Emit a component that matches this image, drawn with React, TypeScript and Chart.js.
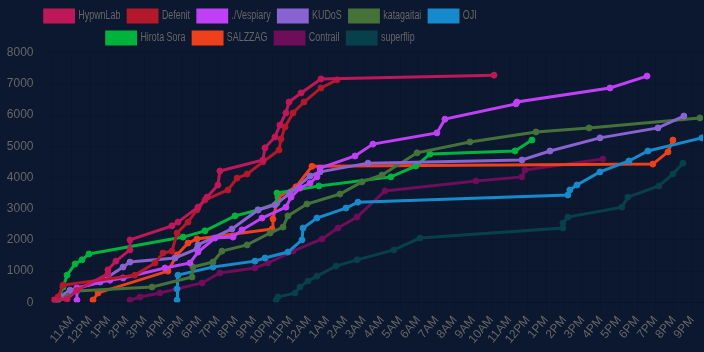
import React, { useEffect, useRef } from "react";
import { Chart, registerables } from "chart.js";
Chart.register(...registerables);

const teamNames = ["HypwnLab", "Defenit", "./Vespiary", "KUDoS", "katagaitai", "OJI", "Hirota Sora", "SALZZAG", "Contrail", "superflip"];
const teamColors = ["#bf1858", "#b3182b", "#bf40f5", "#8a63d2", "#447238", "#168acb", "#00b33c", "#ee401a", "#6e0d5a", "#07404a"];

// time in hours since midnight of day 1
const hypwnlabHours = [10.07, 10.73, 11.27, 12.97, 12.97, 13.41, 14.18, 14.18, 16.48, 16.81, 17.91, 18.4, 19.0, 19.11, 21.47, 21.58, 22.13, 22.4, 22.73, 22.9, 23.56, 24.65, 34.14];
const hypwnlabScores = [70, 100, 390, 910, 1040, 1320, 1680, 2000, 2450, 2570, 3050, 3370, 3760, 4210, 4560, 4950, 5300, 5680, 6070, 6420, 6710, 7160, 7280];

const defenitHours = [9.95, 10.23, 10.51, 14.45, 15.55, 15.99, 16.48, 16.76, 17.36, 17.85, 18.29, 19.55, 20.05, 20.6, 21.47, 22.35, 22.46, 22.68, 23.12, 23.72, 24.65, 25.53];
const defenitScores = [70, 170, 550, 870, 1260, 1580, 1640, 2220, 2570, 2960, 3280, 3600, 3980, 4110, 4500, 4880, 5230, 5620, 6070, 6420, 6870, 7130];

const vespiaryHours = [11.27, 11.27, 13.08, 13.8, 16.1, 17.47, 17.91, 18.84, 19.83, 20.32, 21.42, 22.73, 23.01, 23.5, 24.05, 24.43, 24.6, 26.52, 27.5, 31.01, 31.45, 35.34, 35.4, 40.5, 42.53];
const vespiaryScores = [70, 460, 710, 780, 1100, 1260, 1610, 2060, 2090, 2320, 2700, 3050, 3370, 3660, 3820, 4020, 4300, 4690, 5070, 5430, 5870, 6360, 6420, 6870, 7250];

const kudosHours = [10.07, 10.89, 12.54, 13.8, 14.18, 16.65, 17.85, 17.91, 19.77, 21.2, 22.13, 22.95, 24.05, 24.6, 27.23, 35.67, 37.21, 39.95, 43.13, 44.55];
const kudosScores = [70, 390, 650, 1130, 1290, 1420, 1710, 1840, 2350, 2960, 3120, 3500, 4050, 4180, 4460, 4560, 4850, 5270, 5590, 5970];

const katagaitaiHours = [10.23, 11.27, 15.39, 17.58, 17.63, 18.73, 19.22, 20.6, 21.86, 22.57, 22.84, 23.88, 25.69, 26.9, 28.0, 29.92, 32.82, 36.44, 39.35, 45.43];
const katagaitaiScores = [70, 360, 490, 810, 1130, 1290, 1640, 1840, 2220, 2410, 2770, 3150, 3470, 3860, 4080, 4790, 5140, 5460, 5590, 5910];

const ojiHours = [16.76, 16.76, 16.81, 18.73, 21.03, 21.58, 22.84, 23.61, 23.67, 24.43, 26.02, 26.68, 38.19, 38.3, 38.69, 39.95, 41.54, 42.58, 45.54];
const ojiScores = [70, 430, 870, 1130, 1320, 1420, 1610, 2000, 2380, 2700, 3020, 3210, 3440, 3600, 3760, 4180, 4530, 4850, 5270];

const hirotaHours = [10.23, 10.51, 10.73, 11.17, 11.55, 11.93, 17.09, 18.29, 19.94, 21.2, 22.24, 22.24, 24.54, 28.49, 29.86, 30.63, 35.29, 36.22];
const hirotaScores = [70, 490, 870, 1230, 1360, 1550, 2090, 2290, 2770, 2960, 3180, 3500, 3730, 4020, 4370, 4750, 4850, 5200];

const salzzagHours = [12.15, 12.43, 16.26, 16.76, 17.36, 17.85, 21.97, 22.02, 22.29, 23.28, 24.16, 42.85, 43.68, 43.95];
const salzzagScores = [70, 300, 1000, 1520, 1900, 2030, 2350, 2670, 3370, 3700, 4360, 4430, 4820, 5200];

const contrailHours = [14.18, 14.73, 15.82, 18.13, 19.11, 21.03, 21.75, 23.12, 24.71, 25.58, 26.63, 28.16, 33.15, 35.67, 35.84, 40.11];
const contrailScores = [70, 170, 300, 620, 940, 1100, 1260, 1640, 2030, 2380, 2730, 3570, 3890, 4020, 4240, 4590];

const superflipHours = [22.19, 22.29, 23.23, 23.5, 23.94, 24.43, 25.47, 26.63, 28.65, 30.08, 37.92, 37.92, 38.19, 41.15, 41.48, 43.18, 43.95, 44.5];
const superflipScores = [70, 170, 300, 490, 680, 840, 1160, 1360, 1680, 2060, 2380, 2540, 2730, 3050, 3370, 3730, 4110, 4460];

const teamHours = [hypwnlabHours, defenitHours, vespiaryHours, kudosHours, katagaitaiHours, ojiHours, hirotaHours, salzzagHours, contrailHours, superflipHours];
const teamScores = [hypwnlabScores, defenitScores, vespiaryScores, kudosScores, katagaitaiScores, ojiScores, hirotaScores, salzzagScores, contrailScores, superflipScores];

const xMin = 9.876;
const xMax = 45.6;
const firstTickHour = 11;
const yMax = 8000;
const yStep = 1000;

const legendScaleX = 0.741;
const legendTrim = 1.3;
const yAxisWidth = 51.5;
const xAxisHeight = 49.7;
const FONT = "'Liberation Sans', Arial, Helvetica, sans-serif";

function hourLabel(v: number): string {
  const h = ((Math.round(v) % 24) + 24) % 24;
  if (h === 0) return "12AM";
  if (h === 12) return "12PM";
  return h < 12 ? `${h}AM` : `${h - 12}PM`;
}

const legendSqueeze = {
  id: "legendSqueeze",
  beforeLayout(chart: any) {
    const lg: any = chart.legend;
    if (lg && !lg.__fitPatched) {
      const origFit = lg.fit.bind(lg);
      lg.fit = () => {
        origFit();
        lg.height = Math.max(0, lg.height - legendTrim);
      };
      lg.__fitPatched = true;
    }
  },
  beforeDraw(chart: any) {
    const lg: any = chart.legend;
    if (lg && !lg.__squeezed) {
      const orig = lg.draw.bind(lg);
      lg.draw = (area: any) => {
        const ctx = chart.ctx;
        ctx.save();
        ctx.scale(legendScaleX, 1);
        orig(area);
        ctx.restore();
      };
      lg.__squeezed = true;
    }
  },
};

export default function App() {
  const ref = useRef<HTMLCanvasElement | null>(null);
  useEffect(() => {
    if (!ref.current) return;
    const chart = new Chart(ref.current, {
      type: "line",
      data: {
        datasets: teamNames.map((name, i) => ({
          label: name,
          data: teamHours[i].map((h, j) => ({ x: h, y: teamScores[i][j] })),
          borderColor: teamColors[i],
          backgroundColor: teamColors[i],
          pointBackgroundColor: teamColors[i],
          pointBorderColor: teamColors[i],
          borderWidth: 3,
          pointRadius: 3,
          pointBorderWidth: 1,
          tension: 0,
          fill: false,
        })),
      },
      options: {
        animation: false,
        responsive: true,
        maintainAspectRatio: false,
        layout: { padding: { left: 0, right: 1, top: 0, bottom: 0 }, autoPadding: false },
        plugins: {
          legend: {
            labels: {
              boxWidth: 40,
              color: "#666",
              font: { size: 12, family: FONT },
            },
          },
          tooltip: { enabled: false },
        },
        scales: {
          x: {
            type: "linear",
            min: xMin,
            max: xMax,
            afterBuildTicks: (axis: any) => {
              axis.ticks = axis.ticks.filter((t: any) => t.value >= firstTickHour && Number.isInteger(t.value));
            },
            afterFit: (axis: any) => {
              axis.paddingLeft = 0;
              axis.paddingRight = 0;
              axis.height = xAxisHeight;
            },
            ticks: {
              stepSize: 1,
              autoSkip: false,
              maxRotation: 50,
              minRotation: 50,
              includeBounds: false,
              color: "#666",
              font: { size: 12, family: FONT },
              callback: (v: any) => hourLabel(Number(v)),
            },
          },
          y: {
            min: 0,
            max: yMax,
            afterFit: (axis: any) => {
              axis.width = yAxisWidth;
            },
            ticks: {
              stepSize: yStep,
              padding: 10,
              color: "#666",
              font: { size: 12, family: FONT },
              callback: (v: any) => String(v),
            },
          },
        },
      },
      plugins: [legendSqueeze],
    });
    return () => chart.destroy();
  }, []);
  return (
    <div style={{ position: "fixed", left: 0, top: 0, width: 704, height: 352, background: "#0c1730" }}>
      <canvas ref={ref} />
    </div>
  );
}
